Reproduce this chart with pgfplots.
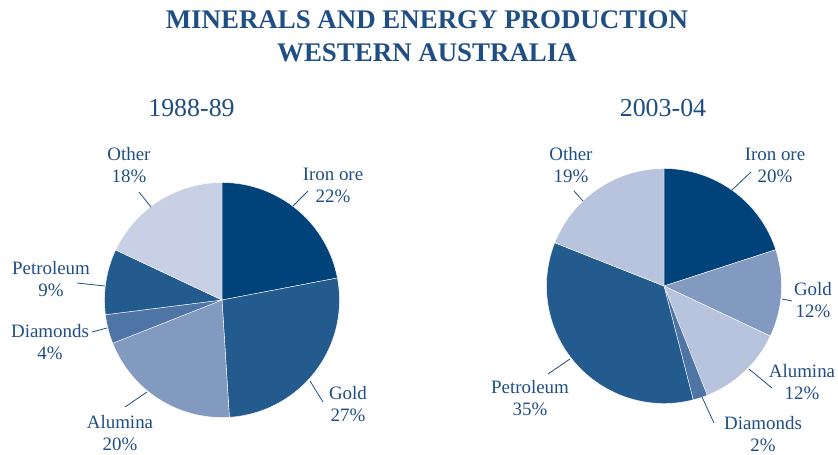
\documentclass[border=0pt]{standalone}
\usepackage{fontspec}
\setmainfont{Liberation Serif}
\usepackage{pgfplots}
\usepackage{pgfplotstable}
\pgfplotsset{compat=1.18}
\definecolor{txt}{HTML}{1F4E85}
\definecolor{ciron}{HTML}{00427A}
\definecolor{cmid}{HTML}{245B8F}
\definecolor{clightA}{HTML}{8299C0}
\definecolor{cdiam}{HTML}{4F74A6}
\definecolor{cotherA}{HTML}{C7D0E4}
\definecolor{cpale}{HTML}{B8C4DD}

\pgfplotstableread{
name pct col
Iron 22 ciron
Gold 27 cmid
Alumina 20 clightA
Diamonds 4 cdiam
Petroleum 9 cmid
Other 18 cotherA
}\pieA

\pgfplotstableread{
name pct col
Iron 20 ciron
Gold 12 clightA
Alumina 12 cpale
Diamonds 2 cdiam
Petroleum 35 cmid
Other 19 cpale
}\pieB

\newcommand\drawpie[4]{%
  \pgfplotstablegetrowsof{#1}%
  \pgfmathtruncatemacro\lastrow{\pgfplotsretval-1}%
  \gdef\angstart{90}%
  \foreach \i in {0,...,\lastrow}{%
    \pgfplotstablegetelem{\i}{pct}\of{#1}\let\pct\pgfplotsretval
    \pgfplotstablegetelem{\i}{col}\of{#1}\let\col\pgfplotsretval
    \pgfmathsetmacro\angend{\angstart-3.6*\pct}%
    \fill[fill=\col, draw=white, line width=0.4bp] (axis cs:#2,#3) -- ++(\angstart:#4) arc[start angle=\angstart, end angle=\angend, radius=#4] -- cycle;
    \xdef\angstart{\angend}%
  }%
}

\begin{document}
\begin{tikzpicture}
\useasboundingbox (0,0) rectangle (838bp,455bp);
\begin{axis}[at={(0,0)}, anchor=south west, x=1bp, y=1bp,
  xmin=0, xmax=838, ymin=0, ymax=455, y dir=reverse,
  hide axis, clip=false, scale only axis]
\pgfplotsextra{%
  \drawpie{\pieA}{222}{300}{117.5bp}%
  \drawpie{\pieB}{664}{286}{117.5bp}%
}
% titles
\node[text=txt, font=\fontsize{27}{30}\selectfont\bfseries, inner sep=0pt] at (axis cs:427,19.5) {MINERALS AND ENERGY PRODUCTION};
\node[text=txt, font=\fontsize{27}{30}\selectfont\bfseries, inner sep=0pt] at (axis cs:427,52.5) {WESTERN AUSTRALIA};
\node[text=txt, font=\fontsize{26}{30}\selectfont, inner sep=0pt] at (axis cs:191.5,108) {1988-89};
\node[text=txt, font=\fontsize{26}{30}\selectfont, inner sep=0pt] at (axis cs:663,108) {2003-04};
% labels
\tikzset{lab/.style={text=txt, font=\fontsize{19}{22}\selectfont, align=center, inner sep=0pt},
         ld/.style={draw=txt, line width=0.8bp}}
\node[lab] at (axis cs:129,165.5) {Other\\18\%};
\node[lab] at (axis cs:333,185.5) {Iron ore\\22\%};
\node[lab] at (axis cs:348,404) {Gold\\27\%};
\node[lab] at (axis cs:120,433.5) {Alumina\\20\%};
\node[lab] at (axis cs:50,342) {Diamonds\\4\%};
\node[lab] at (axis cs:51,279.5) {Petroleum\\9\%};
\node[lab] at (axis cs:571,165) {Other\\19\%};
\node[lab] at (axis cs:775,165.5) {Iron ore\\20\%};
\node[lab] at (axis cs:813,300.5) {Gold\\12\%};
\node[lab] at (axis cs:802,382) {Alumina\\12\%};
\node[lab] at (axis cs:763,434.5) {Diamonds\\2\%};
\node[lab] at (axis cs:530,398) {Petroleum\\35\%};
% leader lines
\draw[ld] (axis cs:139,192) -- (axis cs:151,207);
\draw[ld] (axis cs:293,206) -- (axis cs:308,191);
\draw[ld] (axis cs:310,381) -- (axis cs:323,402);
\draw[ld] (axis cs:125,407) -- (axis cs:147,392);
\draw[ld] (axis cs:92,332) -- (axis cs:107,328);
\draw[ld] (axis cs:77,283) -- (axis cs:105,286);
\draw[ld] (axis cs:574,191) -- (axis cs:583,201);
\draw[ld] (axis cs:732,190) -- (axis cs:751,172);
\draw[ld] (axis cs:782,299) -- (axis cs:792,301);
\draw[ld] (axis cs:749,369) -- (axis cs:772,388);
\draw[ld] (axis cs:702,397) -- (axis cs:714,423);
\draw[ld] (axis cs:570,359) -- (axis cs:548,374);
\end{axis}
\end{tikzpicture}
\end{document}
